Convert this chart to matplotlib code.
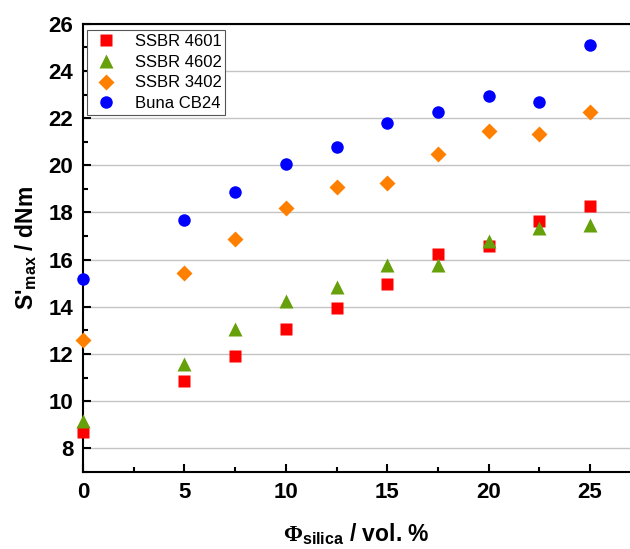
import matplotlib
matplotlib.use('Agg')
import matplotlib.pyplot as plt
from matplotlib.ticker import MultipleLocator

plt.rcParams['font.family'] = ['Liberation Sans', 'DejaVu Sans']
plt.rcParams['mathtext.fontset'] = 'custom'
plt.rcParams['mathtext.rm'] = 'Liberation Serif:bold'
plt.rcParams['mathtext.bf'] = 'Liberation Sans:bold'

phi = [0, 5, 7.5, 10, 12.5, 15, 17.5, 20, 22.5, 25]
ssbr4601 = [8.68, 10.85, 11.92, 13.04, 13.94, 14.98, 16.25, 16.59, 17.64, 18.27]
ssbr4602 = [9.15, 11.56, 13.04, 14.24, 14.85, 15.79, 15.79, 16.8, 17.35, 17.45]
ssbr3402 = [12.61, 15.45, 16.89, 18.21, 19.07, 19.26, 20.48, 21.45, 21.31, 22.24]
buna = [15.2, 17.7, 18.85, 20.07, 20.79, 21.8, 22.24, 22.93, 22.68, 25.09]

fig = plt.figure(figsize=(6.3, 5.49), dpi=100)
ax = fig.add_axes([0.1317, 0.1403, 0.8683, 0.8164])

ax.plot(phi, ssbr4601, 's', color='#ff0000', ms=8.5, mec='none', label='SSBR 4601', clip_on=False, zorder=3)
ax.plot(phi, ssbr4602, '^', color='#66a00a', ms=10, mec='none', label='SSBR 4602', clip_on=False, zorder=3)
ax.plot(phi, ssbr3402, 'D', color='#ff8000', ms=8, mec='none', label='SSBR 3402', clip_on=False, zorder=3)
ax.plot(phi, buna, 'o', color='#0000ff', ms=9, mec='none', label='Buna CB24', clip_on=False, zorder=3)

ax.set_xlim(0, 26.97)
ax.set_ylim(7, 26)
ax.xaxis.set_major_locator(MultipleLocator(5))
ax.xaxis.set_minor_locator(MultipleLocator(2.5))
ax.yaxis.set_major_locator(MultipleLocator(2))
ax.yaxis.set_minor_locator(MultipleLocator(1))
ax.set_yticks(range(8, 27, 2))
ax.grid(axis='y', which='major', color='#c4c4c4', lw=1)
ax.set_axisbelow(True)

ax.tick_params(which='both', direction='in', width=1.5, top=False, right=False)
ax.tick_params(which='major', length=6, labelsize=16, pad=7)
ax.tick_params(which='minor', length=3.5)
for lab in ax.get_xticklabels() + ax.get_yticklabels():
    lab.set_fontweight('bold')

for s in ['left', 'bottom', 'top']:
    ax.spines[s].set_linewidth(1.5)
ax.spines['right'].set_visible(False)

ax.set_xlabel(r'$\Phi_{\mathbf{silica}}$ / vol. %', fontsize=16.5, fontweight='bold', labelpad=13)
ax.set_ylabel(r"S'$_{\mathbf{max}}$ / dNm", fontsize=16.5, fontweight='bold', labelpad=7)

leg = ax.legend(loc='upper left', bbox_to_anchor=(0.007, 0.985), borderaxespad=0,
                fontsize=12, fancybox=False, edgecolor='#555555', framealpha=1,
                handlelength=1.9, handletextpad=0.75, labelspacing=0.34, borderpad=0.22)
leg.get_frame().set_linewidth(0.8)

fig.savefig('out.png', dpi=100)
